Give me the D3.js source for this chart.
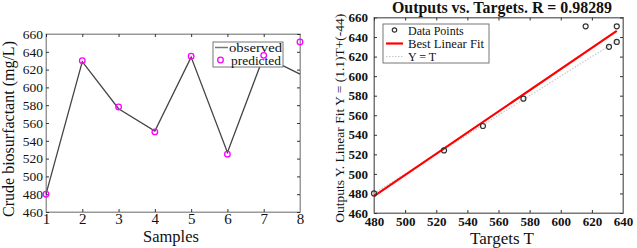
<!DOCTYPE html>
<html>
<head>
<meta charset="utf-8">
<script src="https://cdn.jsdelivr.net/npm/d3@7"></script>
<style>
  body { margin: 0; background: #fff; }
  text { font-family: "Liberation Serif", "Times New Roman", serif; fill: #111; }
</style>
</head>
<body>
<div id="chart-container"></div>
<script>
// Left chart data: samples vs crude biosurfactant
const samples = [1, 2, 3, 4, 5, 6, 7, 8];
const observed = [480, 629, 576, 551, 634, 527, 635, 615];
const predicted = [480, 630, 578, 550, 635, 525, 636, 651];
const leftYTicks = [460, 480, 500, 520, 540, 560, 580, 600, 620, 640, 660];

// Right chart data: outputs vs targets
const targets = [480, 525, 550, 576, 616, 631, 636, 636];
const outputs = [480, 524, 549, 577, 651, 630, 635, 651];
const fitSlope = 1.084;
const fitIntercept = -43.1;
const rightXTicks = [480, 500, 520, 540, 560, 580, 600, 620, 640];
const rightYTicks = [460, 480, 500, 520, 540, 560, 580, 600, 620, 640, 660];

const svg = d3.select("#chart-container")
    .append("svg")
    .attr("width", 637)
    .attr("height", 248);

// ---------- Left chart ----------
const L = { left: 46, right: 300, top: 34, bottom: 212 };
const x1 = d3.scaleLinear().domain([1, 8]).range([L.left, L.right]);
const y1 = d3.scaleLinear().domain([460, 660]).range([L.bottom, L.top]);

const g1 = svg.append("g");

// frame
g1.append("rect")
    .attr("x", L.left).attr("y", L.top)
    .attr("width", L.right - L.left).attr("height", L.bottom - L.top)
    .attr("fill", "none").attr("stroke", "#999").attr("stroke-width", 1);

// axes with inner ticks
const lx = g1.append("g")
    .attr("transform", `translate(0,${L.bottom})`)
    .call(d3.axisBottom(x1).tickValues(samples).tickFormat(d3.format("d"))
        .tickSizeInner(-3).tickSizeOuter(0).tickPadding(3));
lx.selectAll("text").attr("font-size", "15px").attr("dy", "0.6em");
const ly = g1.append("g")
    .attr("transform", `translate(${L.left},0)`)
    .call(d3.axisLeft(y1).tickValues(leftYTicks).tickSizeInner(-3).tickSizeOuter(0).tickPadding(3));
ly.selectAll("text").attr("font-size", "13.5px");
g1.append("g")
    .attr("transform", `translate(0,${L.top})`)
    .call(d3.axisTop(x1).tickValues(samples).tickSizeInner(-3).tickSizeOuter(0).tickFormat(""));
g1.append("g")
    .attr("transform", `translate(${L.right},0)`)
    .call(d3.axisRight(y1).tickValues(leftYTicks).tickSizeInner(-3).tickSizeOuter(0).tickFormat(""));
g1.selectAll("g").attr("font-family", null);
g1.selectAll(".domain").attr("stroke", "#999");
g1.selectAll(".tick line").attr("stroke", "#333");
g1.selectAll(".tick text").attr("fill", "#111").attr("font-family", "Liberation Serif");

// observed line
const line1 = d3.line()
    .x((d, i) => x1(samples[i]))
    .y(d => y1(d));
g1.append("path")
    .datum(observed)
    .attr("fill", "none")
    .attr("stroke", "#444")
    .attr("stroke-width", 1.3)
    .attr("d", line1);

// legend (covers line)
const lg = g1.append("g");
lg.append("rect")
    .attr("x", 213).attr("y", 42).attr("width", 70).attr("height", 25)
    .attr("fill", "#fff").attr("stroke", "#777").attr("stroke-width", 1);
lg.append("line")
    .attr("x1", 215).attr("x2", 228).attr("y1", 47.5).attr("y2", 47.5)
    .attr("stroke", "#777").attr("stroke-width", 1.5);
lg.append("text").attr("x", 229).attr("y", 51.5).attr("font-size", "13.5px")
    .attr("textLength", 53).attr("lengthAdjust", "spacingAndGlyphs").text("observed");
lg.append("circle")
    .attr("cx", 220.5).attr("cy", 60).attr("r", 2.8)
    .attr("fill", "none").attr("stroke", "#ff00ff").attr("stroke-width", 1.3);
lg.append("text").attr("x", 231).attr("y", 65).attr("font-size", "13.5px")
    .attr("textLength", 50).attr("lengthAdjust", "spacingAndGlyphs").text("predicted");

// predicted markers
g1.selectAll(".pred")
    .data(predicted)
    .enter().append("circle")
    .attr("cx", (d, i) => x1(samples[i]))
    .attr("cy", d => y1(d))
    .attr("r", 2.8)
    .attr("fill", "none")
    .attr("stroke", "#ff00ff")
    .attr("stroke-width", 1.3);

// axis labels
g1.append("text")
    .attr("x", 171).attr("y", 242)
    .attr("text-anchor", "middle").attr("font-size", "16.5px")
    .text("Samples");
g1.append("text")
    .attr("transform", `translate(14,${(L.top + L.bottom) / 2 + 6}) rotate(-90)`)
    .attr("text-anchor", "middle").attr("font-size", "16px")
    .text("Crude biosurfactant (mg/L)");

// ---------- Right chart ----------
const R = { left: 374, right: 623, top: 17.5, bottom: 213 };
const x2 = d3.scaleLinear().domain([480, 640]).range([R.left, R.right]);
const y2 = d3.scaleLinear().domain([460, 660]).range([R.bottom, R.top]);

const g2 = svg.append("g");

g2.append("rect")
    .attr("x", R.left).attr("y", R.top)
    .attr("width", R.right - R.left).attr("height", R.bottom - R.top)
    .attr("fill", "none").attr("stroke", "#777").attr("stroke-width", 1);

const rx = g2.append("g")
    .attr("transform", `translate(0,${R.bottom})`)
    .call(d3.axisBottom(x2).tickValues(rightXTicks).tickSizeInner(-3).tickSizeOuter(0).tickPadding(4));
rx.selectAll("text").attr("font-size", "13px").attr("font-weight", "bold");
const ry = g2.append("g")
    .attr("transform", `translate(${R.left},0)`)
    .call(d3.axisLeft(y2).tickValues(rightYTicks).tickSizeInner(-3).tickSizeOuter(0).tickPadding(6));
ry.selectAll("text").attr("font-size", "13px").attr("font-weight", "bold");
g2.append("g")
    .attr("transform", `translate(0,${R.top})`)
    .call(d3.axisTop(x2).tickValues(rightXTicks).tickSizeInner(-3).tickSizeOuter(0).tickFormat(""));
g2.append("g")
    .attr("transform", `translate(${R.right},0)`)
    .call(d3.axisRight(y2).tickValues(rightYTicks).tickSizeInner(-3).tickSizeOuter(0).tickFormat(""));
g2.selectAll("g").attr("font-family", null);
g2.selectAll(".domain").attr("stroke", "#777");
g2.selectAll(".tick line").attr("stroke", "#333");
g2.selectAll(".tick text").attr("fill", "#111").attr("font-family", "Liberation Serif");

// Y = T reference line
const tExtent = d3.extent(targets);
g2.append("line")
    .attr("x1", x2(tExtent[0])).attr("y1", y2(tExtent[0]))
    .attr("x2", x2(tExtent[1])).attr("y2", y2(tExtent[1]))
    .attr("stroke", "#c8c8c8").attr("stroke-width", 1.2)
    .attr("stroke-dasharray", "1.5,1.5");

// best linear fit
g2.append("line")
    .attr("x1", x2(tExtent[0])).attr("y1", y2(fitSlope * tExtent[0] + fitIntercept))
    .attr("x2", x2(tExtent[1])).attr("y2", y2(fitSlope * tExtent[1] + fitIntercept))
    .attr("stroke", "#ff0000").attr("stroke-width", 2.2);

// data points
g2.selectAll(".pt")
    .data(targets)
    .enter().append("circle")
    .attr("cx", d => x2(d))
    .attr("cy", (d, i) => y2(outputs[i]))
    .attr("r", 2.5)
    .attr("fill", "none")
    .attr("stroke", "#333")
    .attr("stroke-width", 1.2);

// legend
const rg = g2.append("g");
rg.append("rect")
    .attr("x", 383).attr("y", 24).attr("width", 106).attr("height", 39)
    .attr("fill", "#fff").attr("stroke", "#777").attr("stroke-width", 1);
rg.append("circle")
    .attr("cx", 394.5).attr("cy", 30).attr("r", 2.2)
    .attr("fill", "none").attr("stroke", "#333").attr("stroke-width", 1.2);
rg.append("text").attr("x", 408).attr("y", 34.5).attr("font-size", "12px").text("Data Points");
rg.append("line")
    .attr("x1", 386).attr("x2", 403).attr("y1", 43.5).attr("y2", 43.5)
    .attr("stroke", "#ff0000").attr("stroke-width", 2.2);
rg.append("text").attr("x", 408).attr("y", 47.5).attr("font-size", "12px")
    .attr("textLength", 76).attr("lengthAdjust", "spacingAndGlyphs").text("Best Linear Fit");
rg.append("line")
    .attr("x1", 386).attr("x2", 403).attr("y1", 56.5).attr("y2", 56.5)
    .attr("stroke", "#c8c8c8").attr("stroke-width", 1.2).attr("stroke-dasharray", "1.5,1.5");
rg.append("text").attr("x", 408).attr("y", 60.5).attr("font-size", "12px").text("Y = T");

// title and labels
g2.append("text")
    .attr("x", 502).attr("y", 13)
    .attr("text-anchor", "middle").attr("font-size", "16px").attr("font-weight", "bold")
    .attr("textLength", 220).attr("lengthAdjust", "spacingAndGlyphs")
    .text("Outputs vs. Targets. R = 0.98289");
g2.append("text")
    .attr("x", 502).attr("y", 244)
    .attr("text-anchor", "middle").attr("font-size", "17px")
    .text("Targets T");
g2.append("text")
    .attr("transform", `translate(344,${(R.top + R.bottom) / 2 + 3}) rotate(-90)`)
    .attr("text-anchor", "middle").attr("font-size", "13.5px")
    .text("Outputs Y. Linear Fit Y = (1.1)T+(-44)");
</script>
</body>
</html>
